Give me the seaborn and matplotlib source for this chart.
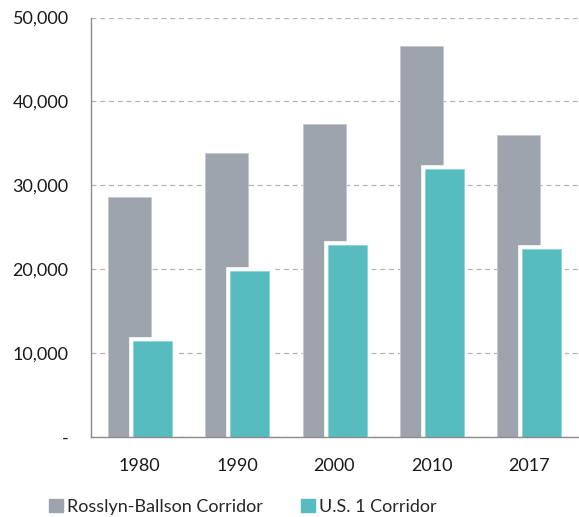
import matplotlib
matplotlib.use('Agg')
import matplotlib.pyplot as plt
import matplotlib.patches as mpatches
from matplotlib.ticker import FuncFormatter
import seaborn as sns
import pandas as pd

years = ['1980', '1990', '2000', '2010', '2017']
rosslyn = [28600, 33800, 37300, 46600, 36000]
us1 = [11400, 19800, 22900, 31900, 22400]

gray = '#9ea4ae'
teal = '#57bcc0'

sns.set_style('white')
plt.rcParams['font.family'] = ['Lato', 'DejaVu Sans']

fig = plt.figure(figsize=(5.79, 5.17), dpi=100)
ax = fig.add_axes([0.157, 0.155, 0.841, 0.811])

df = pd.DataFrame({'year': years, 'rosslyn': rosslyn, 'us1': us1})

# gray bars behind, shifted left
sns.barplot(data=df, x='year', y='rosslyn', color=gray, width=0.44,
            edgecolor='#c5c9cf', linewidth=0.6, saturation=1, ax=ax, zorder=2)
n = len(ax.patches)
for p in ax.patches:
    p.set_x(p.get_x() - 0.105)

# white outline under the teal bars
sns.barplot(data=df, x='year', y='us1', color='white', width=0.40,
            edgecolor='white', linewidth=5.5, saturation=1, ax=ax, zorder=3)
# teal bars on top, shifted right
sns.barplot(data=df, x='year', y='us1', color=teal, width=0.40,
            edgecolor='#8fd3d6', linewidth=0.6, saturation=1, ax=ax, zorder=4)
for p in ax.patches[n:]:
    p.set_x(p.get_x() + 0.131)

ax.set_xlim(-0.5, 4.5)
ax.set_ylim(0, 50000)
ax.set_yticks(range(0, 50001, 10000))
ax.yaxis.set_major_formatter(FuncFormatter(lambda v, pos: '-' if v == 0 else f'{int(v):,}'))
ax.grid(axis='y', color='#b5b5b5', linestyle=(0, (4, 3)), linewidth=0.9, zorder=0)
ax.set_axisbelow(True)

ax.set_xlabel('')
ax.set_ylabel('')
ax.tick_params(axis='x', which='major', length=0, pad=15, labelsize=13, colors='#1a1a1a')
ax.set_xticks([i - 0.5 for i in range(6)], minor=True)
ax.tick_params(axis='x', which='minor', length=5, width=1, color='#8c8c8c', direction='out')
ax.tick_params(axis='y', length=6, width=0.9, pad=10, labelsize=13, colors='#b5b5b5', labelcolor='#1a1a1a')

for s in ['top', 'right']:
    ax.spines[s].set_visible(False)
for s in ['left', 'bottom']:
    ax.spines[s].set_color('#8c8c8c')
    ax.spines[s].set_linewidth(1)
    ax.spines[s].set_zorder(5)

handles = [mpatches.Patch(color=gray, label='Rosslyn-Ballson Corridor'),
           mpatches.Patch(color=teal, label='U.S. 1 Corridor')]
fig.legend(handles=handles, loc='center', bbox_to_anchor=(0.42, 0.02), ncol=2,
           frameon=False, fontsize=13, handlelength=0.75, handleheight=0.75,
           handletextpad=0.25, columnspacing=2.1)

fig.savefig('out.png', dpi=100)
